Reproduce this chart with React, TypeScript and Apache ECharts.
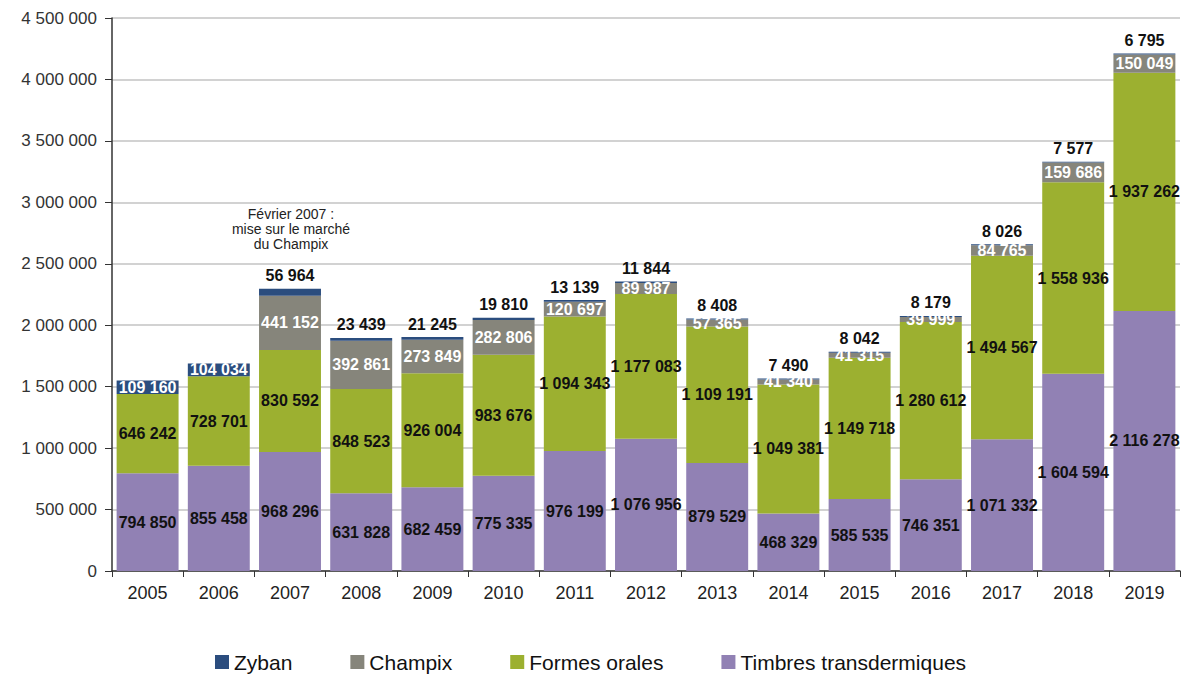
import React, { useEffect, useRef } from "react";
import * as echarts from "echarts";

const years = ["2005","2006","2007","2008","2009","2010","2011","2012","2013","2014","2015","2016","2017","2018","2019"];
const timbres = [794850, 855458, 968296, 631828, 682459, 775335, 976199, 1076956, 879529, 468329, 585535, 746351, 1071332, 1604594, 2116278];
const formesOrales = [646242, 728701, 830592, 848523, 926004, 983676, 1094343, 1177083, 1109191, 1049381, 1149718, 1280612, 1494567, 1558936, 1937262];
const champix = [0, 0, 441152, 392861, 273849, 282806, 120697, 89987, 57365, 41340, 41315, 39999, 84765, 159686, 150049];
const zyban = [109160, 104034, 56964, 23439, 21245, 19810, 13139, 11844, 8408, 7490, 8042, 8179, 8026, 7577, 6795];
const zybanInsideYears = ["2005", "2006"];
const legendOrder = ["Zyban", "Champix", "Formes orales", "Timbres transdermiques"];
const annotation = "Février 2007 :\nmise sur le marché\ndu Champix";

const fmt = (v: number) => String(Math.round(v)).replace(/\B(?=(\d{3})+(?!\d))/g, " ");
const FONT = "'Liberation Sans', Arial, sans-serif";

const labelBase = {
  show: true,
  position: "inside",
  fontFamily: FONT,
  fontWeight: "bold",
  fontSize: 16,
  color: "#111",
  formatter: (p: any) => (p.value ? fmt(p.value) : ""),
};

export default function App() {
  const ref = useRef<HTMLDivElement>(null);
  useEffect(() => {
    if (!ref.current) return;
    const chart = echarts.init(ref.current, null, { renderer: "svg" });
    chart.setOption({
      animation: false,
      backgroundColor: "#ffffff",
      grid: { left: 112, right: 3, top: 18, bottom: 104, containLabel: false },
      legend: {
        data: legendOrder,
        left: 215,
        top: 651,
        padding: 0,
        icon: "rect",
        itemWidth: 14,
        itemHeight: 14,
        itemGap: 58,
        itemTextGap: 8,
        textStyle: { fontFamily: FONT, fontSize: 21, lineHeight: 22, color: "#111" },
      },
      xAxis: {
        type: "category",
        data: years,
        axisLine: { lineStyle: { color: "#333", width: 1.5 } },
        axisTick: { show: true, length: 6, lineStyle: { color: "#333" } },
        axisLabel: { fontFamily: FONT, fontSize: 18, color: "#222", margin: 13 },
      },
      yAxis: {
        type: "value",
        min: 0,
        max: 4500000,
        interval: 500000,
        axisLine: { show: true, lineStyle: { color: "#333", width: 1.5 } },
        axisTick: { show: true, length: 7, lineStyle: { color: "#333" } },
        axisLabel: { fontFamily: FONT, fontSize: 17, color: "#333", margin: 15, formatter: (v: number) => fmt(v) },
        splitLine: { lineStyle: { color: "#d2d2d2", width: 2 } },
      },
      graphic: [
        {
          type: "text",
          x: 291,
          y: 206,
          style: {
            text: annotation,
            fontFamily: FONT,
            fontSize: 14,
            lineHeight: 15,
            fill: "#222",
            align: "center",
            textAlign: "center",
            verticalAlign: "top",
          },
        },
      ],
      series: [
        {
          name: "Timbres transdermiques",
          type: "bar",
          stack: "total",
          barCategoryGap: "13%",
          data: timbres,
          itemStyle: { color: "#9181b4" },
          label: { ...labelBase },
        },
        {
          name: "Formes orales",
          type: "bar",
          stack: "total",
          data: formesOrales,
          itemStyle: { color: "#9cb030" },
          label: { ...labelBase },
        },
        {
          name: "Champix",
          type: "bar",
          stack: "total",
          data: champix,
          itemStyle: { color: "#86857b" },
          label: { ...labelBase, color: "#ffffff" },
        },
        {
          name: "Zyban",
          type: "bar",
          stack: "total",
          data: zyban.map((v, i) =>
            zybanInsideYears.includes(years[i])
              ? { value: v, label: { position: "inside", color: "#ffffff" } }
              : v
          ),
          itemStyle: { color: "#2b4d7e" },
          label: { ...labelBase, position: "top", distance: 5 },
        },
      ],
    });
    return () => chart.dispose();
  }, []);
  return <div ref={ref} style={{ width: 1183, height: 675, position: "absolute", left: 0, top: 0 }} />;
}
